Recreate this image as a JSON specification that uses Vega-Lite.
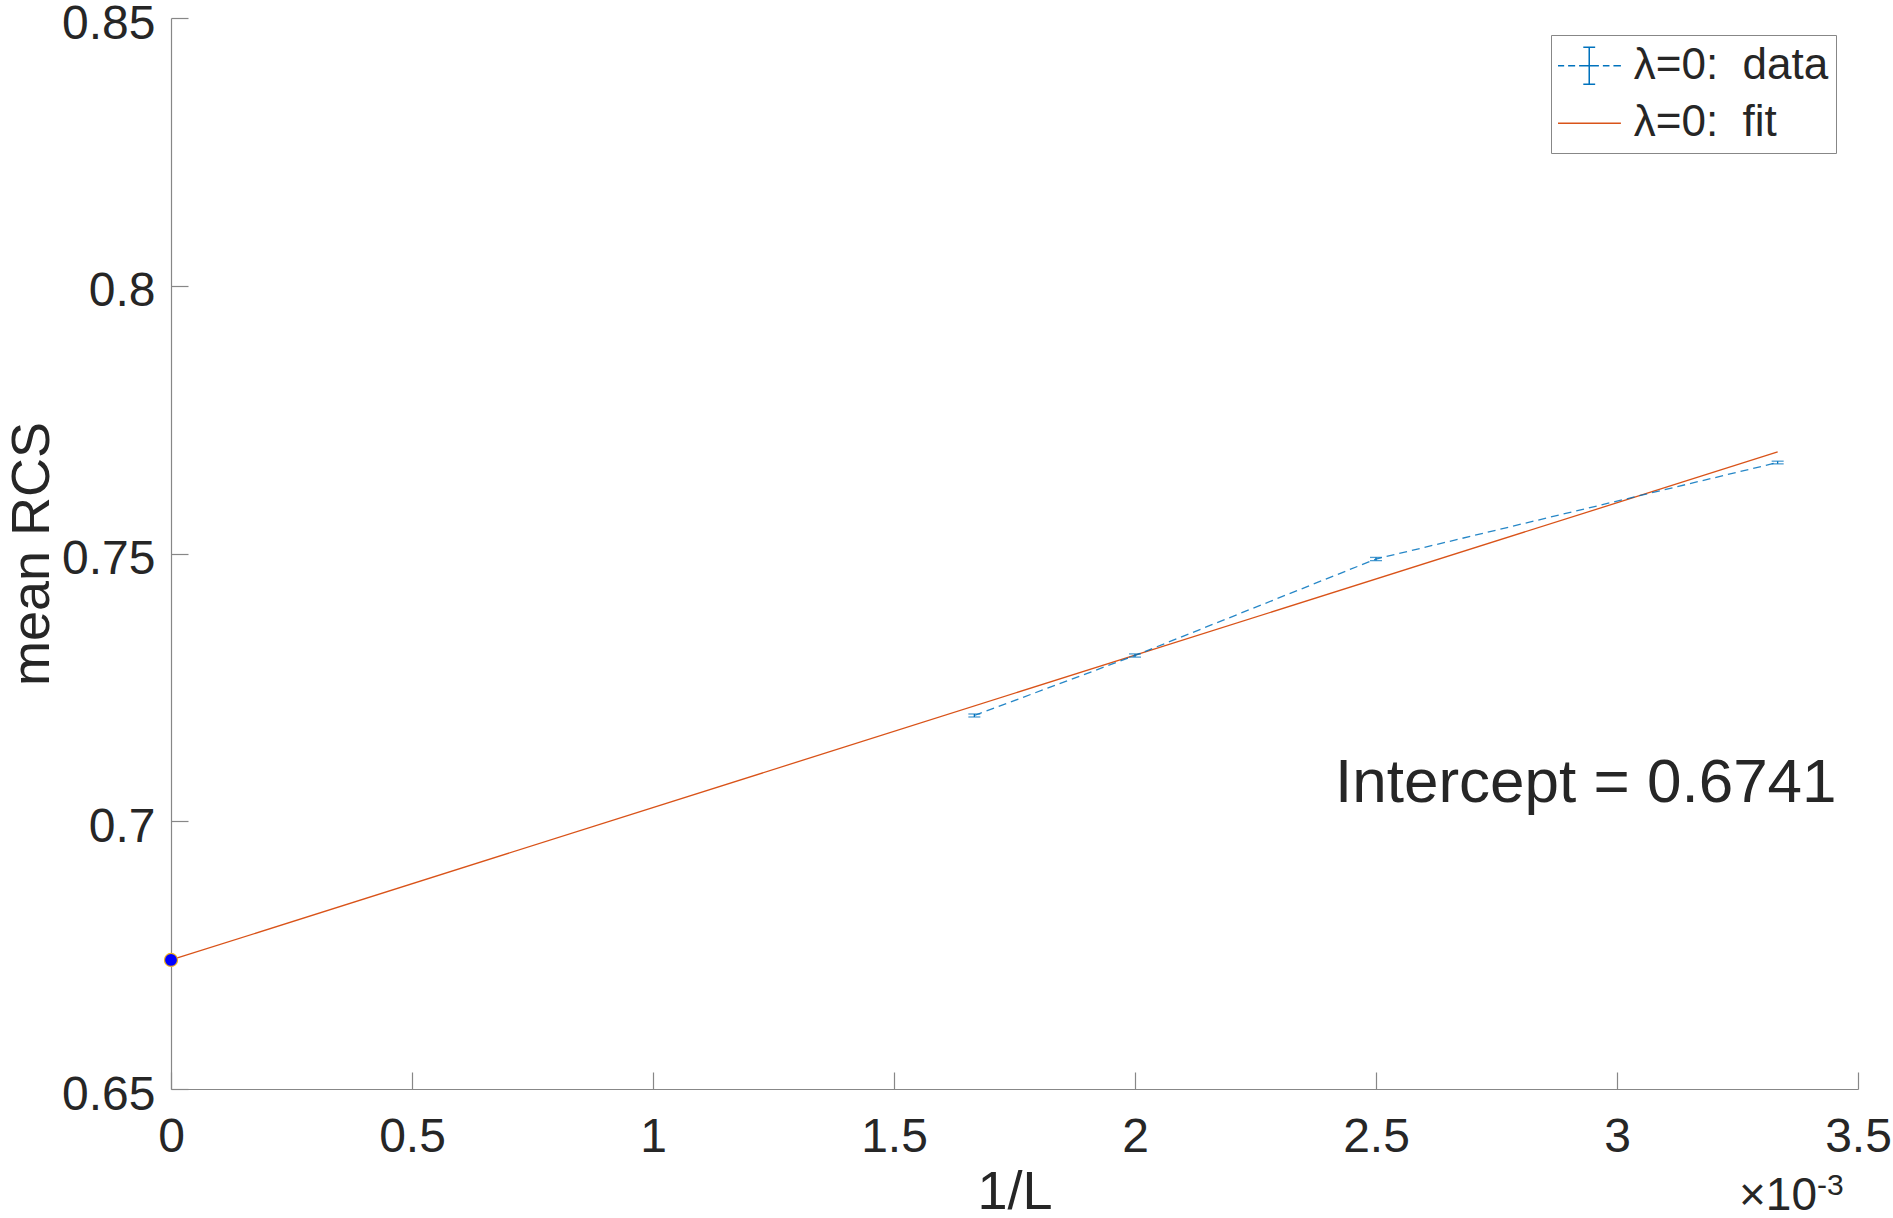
{
  "$schema": "https://vega.github.io/schema/vega-lite/v6.json",
  "width": 1687,
  "height": 1071,
  "autosize": {"type": "none"},
  "padding": {"left": 171, "top": 18, "right": 35, "bottom": 129},
  "background": "white",
  "config": {
    "view": {"stroke": null},
    "font": "Liberation Sans",
    "axis": {
      "domainColor": "#878787",
      "domainWidth": 1.2,
      "tickColor": "#878787",
      "tickWidth": 1.2,
      "labelColor": "#262626",
      "titleColor": "#262626",
      "labelFont": "Liberation Sans",
      "titleFont": "Liberation Sans",
      "labelFontSize": 48,
      "titleFontSize": 54,
      "titleFontWeight": "normal",
      "grid": false,
      "labelFlush": false,
      "labelOverlap": false
    }
  },
  "datasets": {
    "pts": [
      {"x": 1.6667, "y": 0.71975, "lo": 0.71947, "hi": 0.72003, "series": "λ=0:\u00a0 data"},
      {"x": 2.0, "y": 0.73095, "lo": 0.73065, "hi": 0.73125, "series": "λ=0:\u00a0 data"},
      {"x": 2.5, "y": 0.74897, "lo": 0.74867, "hi": 0.74927, "series": "λ=0:\u00a0 data"},
      {"x": 3.3333, "y": 0.76699, "lo": 0.76674, "hi": 0.76724, "series": "λ=0:\u00a0 data"}
    ],
    "fit": [
      {"x": 0, "y": 0.6741, "series": "λ=0:\u00a0 fit"},
      {"x": 3.3333, "y": 0.76896, "series": "λ=0:\u00a0 fit"}
    ],
    "icpt": [
      {"x": 0, "y": 0.6741}
    ],
    "notes": [
      {"label": "Intercept = 0.6741"}
    ],
    "mult": [
      {"label": "×10"}
    ],
    "expo": [
      {"label": "-3"}
    ]
  },
  "layer": [
    {
      "data": {"name": "fit"},
      "mark": {"type": "line", "strokeWidth": 1.3},
      "encoding": {
        "x": {
          "field": "x",
          "type": "quantitative",
          "scale": {"domain": [0, 3.5], "nice": false, "zero": false},
          "axis": {
            "values": [0, 0.5, 1, 1.5, 2, 2.5, 3, 3.5],
            "format": "~g",
            "title": "1/L",
            "tickSize": -17,
            "labelPadding": 41,
            "titlePadding": 4
          }
        },
        "y": {
          "field": "y",
          "type": "quantitative",
          "scale": {"domain": [0.65, 0.85], "nice": false, "zero": false},
          "axis": {
            "values": [0.65, 0.7, 0.75, 0.8, 0.85],
            "format": "~g",
            "title": "mean RCS",
            "tickSize": -17,
            "labelPadding": 33,
            "labelOffset": 6,
            "titlePadding": 2
          }
        },
        "color": {
          "field": "series",
          "type": "nominal",
          "scale": {"domain": ["λ=0:\u00a0 data", "λ=0:\u00a0 fit"], "range": ["#0072BD", "#D95319"]},
          "legend": {
            "title": null,
            "orient": "none",
            "legendX": 1380,
            "legendY": 17,
            "symbolSize": 1936,
            "symbolStrokeWidth": 1.5,
            "labelFontSize": 44,
            "labelFont": "Liberation Sans",
            "labelColor": "#262626",
            "labelOffset": 29,
            "labelLimit": 800,
            "rowPadding": 12.5,
            "padding": 7.75,
            "fillColor": "white",
            "strokeColor": "#878787",
            "encode": {
              "symbols": {
                "update": {
                  "shape": {"signal": "indexof(datum.label, 'data') >= 0 ? 'M-1.08,0L-0.8,0M-0.62,0L-0.3,0M-0.12,0L0.78,0M0.96,0L1.26,0M1.44,0L1.78,0M0.34,-0.84L0.34,0.84M0.07,-0.84L0.61,-0.84M0.07,0.84L0.61,0.84' : 'M-1.08,0L1.78,0'"},
                  "strokeDash": {"value": [1, 0]},
                  "fill": {"value": "transparent"}
                }
              }
            }
          }
        }
      }
    },
    {
      "data": {"name": "pts"},
      "mark": {"type": "line", "strokeWidth": 1.3, "strokeDash": [8, 5], "opacity": 0.85},
      "encoding": {
        "x": {"field": "x", "type": "quantitative"},
        "y": {"field": "y", "type": "quantitative"},
        "color": {"field": "series", "type": "nominal"}
      }
    },
    {
      "data": {"name": "pts"},
      "mark": {"type": "rule", "color": "#0072BD", "strokeWidth": 1.3},
      "encoding": {
        "x": {"field": "x", "type": "quantitative"},
        "y": {"field": "lo", "type": "quantitative"},
        "y2": {"field": "hi"}
      }
    },
    {
      "data": {"name": "pts"},
      "mark": {"type": "tick", "orient": "horizontal", "color": "#0072BD", "size": 12, "thickness": 1.3},
      "encoding": {
        "x": {"field": "x", "type": "quantitative"},
        "y": {"field": "lo", "type": "quantitative"}
      }
    },
    {
      "data": {"name": "pts"},
      "mark": {"type": "tick", "orient": "horizontal", "color": "#0072BD", "size": 12, "thickness": 1.3},
      "encoding": {
        "x": {"field": "x", "type": "quantitative"},
        "y": {"field": "hi", "type": "quantitative"}
      }
    },
    {
      "data": {"name": "icpt"},
      "mark": {"type": "point", "filled": true, "size": 170, "fill": "#0000FF", "stroke": "#EDB120", "strokeWidth": 1.2, "opacity": 1},
      "encoding": {
        "x": {"field": "x", "type": "quantitative"},
        "y": {"field": "y", "type": "quantitative"}
      }
    },
    {
      "data": {"name": "notes"},
      "mark": {"type": "text", "align": "left", "baseline": "alphabetic", "fontSize": 62, "font": "Liberation Sans", "color": "#262626"},
      "encoding": {
        "text": {"field": "label"},
        "x": {"datum": 2.415, "type": "quantitative"},
        "y": {"datum": 0.70358, "type": "quantitative"}
      }
    },
    {
      "data": {"name": "mult"},
      "mark": {"type": "text", "align": "right", "baseline": "alphabetic", "fontSize": 46, "font": "Liberation Sans", "color": "#262626"},
      "encoding": {
        "text": {"field": "label"},
        "x": {"datum": 3.415, "type": "quantitative"},
        "y": {"datum": 0.62741, "type": "quantitative"}
      }
    },
    {
      "data": {"name": "expo"},
      "mark": {"type": "text", "align": "left", "baseline": "alphabetic", "fontSize": 30, "font": "Liberation Sans", "color": "#262626"},
      "encoding": {
        "text": {"field": "label"},
        "x": {"datum": 3.415, "type": "quantitative"},
        "y": {"datum": 0.63021, "type": "quantitative"}
      }
    }
  ]
}
